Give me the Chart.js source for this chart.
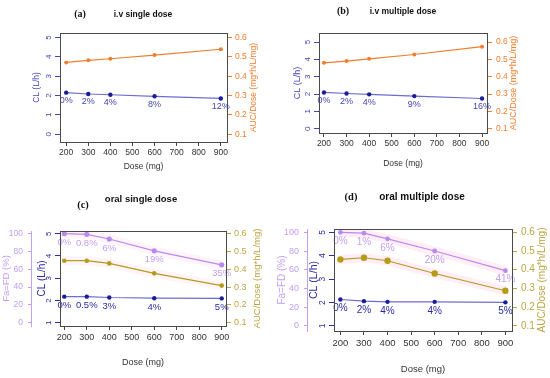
<!DOCTYPE html>
<html>
<head>
<meta charset="utf-8">
<script src="https://cdn.jsdelivr.net/npm/chart.js@4.4.1/dist/chart.umd.min.js"></script>
<style>
  html, body { margin: 0; padding: 0; background: #fff; }
  #wrap { position: relative; width: 550px; height: 378px; overflow: hidden; }
  .panel { position: absolute; width: 275px; height: 189px; }
</style>
</head>
<body>
<div id="wrap">
  <div class="panel" style="left:0;top:0"><canvas id="pa"></canvas></div>
  <div class="panel" style="left:275px;top:0"><canvas id="pb"></canvas></div>
  <div class="panel" style="left:0;top:189px"><canvas id="pc"></canvas></div>
  <div class="panel" style="left:275px;top:189px"><canvas id="pd"></canvas></div>
</div>
<script>
const doses = [200, 300, 400, 600, 900];
const doseTicks = [200, 300, 400, 500, 600, 700, 800, 900];
const clTicksIv = [0, 1, 2, 3, 4, 5];
const clTicksOral = [1, 2, 3, 4, 5];
const faTicks = [0, 20, 40, 60, 80, 100];
const aucTicks = [0.1, 0.2, 0.3, 0.4, 0.5, 0.6];

// (a) i.v single dose
const clIvSingle = [2.15, 2.08, 2.04, 1.96, 1.85];
const aucIvSingle = [0.471, 0.482, 0.49, 0.509, 0.539];
const pctIvSingle = ["0%", "2%", "4%", "8%", "12%"];

// (b) i.v multiple dose
const clIvMulti = [2.09, 2.03, 1.98, 1.88, 1.74];
const aucIvMulti = [0.48, 0.49, 0.503, 0.528, 0.573];
const pctIvMulti = ["0%", "2%", "4%", "9%", "16%"];

// (c) oral single dose
const clOralSingle = [2.17, 2.17, 2.13, 2.1, 2.09];
const faOralSingle = [100, 99.3, 94, 80.7, 65];
const aucOralSingle = [0.448, 0.448, 0.433, 0.377, 0.308];
const pctClOralSingle = ["0%", "0.5%", "3%", "4%", "5%"];
const pctFaOralSingle = ["0%", "0.8%", "6%", "19%", "35%"];

// (d) oral multiple dose
const clOralMulti = [2.13, 2.06, 2.03, 2.03, 2.01];
const faOralMulti = [100, 99, 93, 80, 59];
const aucOralMulti = [0.455, 0.464, 0.448, 0.38, 0.288];
const pctClOralMulti = ["0%", "2%", "4%", "4%", "5%"];
const pctFaOralMulti = ["0%", "1%", "6%", "20%", "41%"];

const NAVY = "#1c1c9a";
const BLUE_LINE = "#6c6cd2";
const BLUE_TXT = "#4545b4";
const ORANGE = "#f07e2c";
const LAV = "#b98aec";
const LAV_TXT = "#c29ff0";
const OLIVE = "#b49c16";
const OLIVE_TXT = "#bba644";
const SANS = "'Liberation Sans', Arial, sans-serif";

function pts(ys) {
  return doses.map((d, i) => ({ x: d, y: ys[i] }));
}
function fixTicks(values) {
  return scale => { scale.ticks = values.map(v => ({ value: v })); };
}
function fixSize(n) {
  return scale => {
    if (scale.isHorizontal()) scale.height = n; else scale.width = n;
  };
}

// draws the % labels under points
const pctLabels = {
  id: "pctLabels",
  afterDatasetsDraw(chart) {
    const ctx = chart.ctx;
    chart.data.datasets.forEach((ds, i) => {
      if (!ds.pct) return;
      const meta = chart.getDatasetMeta(i);
      ctx.save();
      ctx.font = ds.pctFont;
      ctx.fillStyle = ds.pctColor;
      ctx.textAlign = "center";
      ctx.textBaseline = "middle";
      meta.data.forEach((el, j) => ctx.fillText(ds.pct[j], el.x, el.y + ds.pctDy));
      ctx.restore();
    });
  }
};

// box, panel tag, title, right axis title
const decor = {
  id: "decor",
  afterDraw(chart, args, o) {
    const ctx = chart.ctx;
    const a = chart.chartArea;
    ctx.save();
    ctx.strokeStyle = "#4a4a4a";
    ctx.lineWidth = 1;
    ctx.strokeRect(Math.round(a.left) + 0.5, Math.round(a.top) + 0.5,
      Math.round(a.right - a.left), Math.round(a.bottom - a.top));
    ctx.fillStyle = "#111";
    ctx.textBaseline = "middle";
    ctx.textAlign = "center";
    ctx.font = o.tagFont;
    ctx.fillText(o.tag, o.tagX, o.tagY);
    ctx.font = o.titleFont;
    ctx.fillText(o.title, o.titleX, o.titleY);
    ctx.translate(o.rightX, (a.top + a.bottom) / 2);
    ctx.rotate(-Math.PI / 2);
    ctx.fillStyle = o.rightColor;
    ctx.font = o.rightFont;
    ctx.fillText(o.rightTitle, 0, 0);
    ctx.restore();
  }
};

function tickFmt(dec) {
  return v => dec ? Number(v).toFixed(dec) : String(v);
}

function yAxis(p) {
  return {
    type: "linear",
    position: p.position,
    weight: p.weight || 0,
    min: p.min,
    max: p.max,
    afterBuildTicks: fixTicks(p.ticks),
    afterFit: fixSize(p.width),
    grid: { display: true, drawOnChartArea: false, drawTicks: true, tickLength: p.tickLength || 5, color: p.color, lineWidth: 1 },
    border: { display: !!p.border, color: p.color },
    ticks: Object.assign({
      color: p.color,
      font: { family: SANS, size: p.fontSize },
      padding: p.padding,
      callback: tickFmt(p.dec || 0)
    }, p.rotate ? { minRotation: 90, maxRotation: 90, crossAlign: "center" } : {}),
    title: p.title ? {
      display: true,
      text: p.title,
      color: p.color,
      font: { family: SANS, size: p.titleSize },
      padding: { top: p.titlePad, bottom: 0 }
    } : { display: false }
  };
}

function xAxis(p) {
  return {
    type: "linear",
    position: "bottom",
    min: p.min,
    max: p.max,
    afterBuildTicks: fixTicks(doseTicks),
    afterFit: fixSize(p.height),
    grid: { display: true, drawOnChartArea: false, drawTicks: true, tickLength: 4, color: "#444" },
    border: { display: false },
    ticks: { color: "#333", font: { family: SANS, size: p.fontSize }, padding: p.padding, maxRotation: 0, autoSkip: false, callback: tickFmt(0) },
    title: { display: true, text: "Dose (mg)", color: "#333", font: { family: SANS, size: p.fontSize }, padding: { top: 0, bottom: p.titlePad } }
  };
}

function lineDs(label, ys, axis, color, ptColor, radius, extra) {
  return Object.assign({
    label: label,
    data: pts(ys),
    yAxisID: axis,
    borderColor: color,
    borderWidth: 1.2,
    pointRadius: radius,
    pointBackgroundColor: ptColor,
    pointBorderWidth: 0,
    tension: 0,
    fill: false,
    order: 1
  }, extra || {});
}

// faint pink halo behind the oral-dose lines
function glowDs(ys, axis, alpha) {
  return {
    data: pts(ys), yAxisID: axis, borderColor: "rgba(255, 196, 230, " + alpha + ")", borderWidth: 9,
    pointRadius: 0, tension: 0, fill: false, order: 10
  };
}

function baseOptions(top, scales, deco) {
  return {
    responsive: true,
    maintainAspectRatio: false,
    animation: false,
    layout: { padding: { top: top, left: 0, right: 0, bottom: 0 } },
    plugins: { legend: { display: false }, tooltip: { enabled: false }, decor: deco },
    scales: scales
  };
}

// (a)
new Chart(document.getElementById("pa"), {
  type: "line",
  data: {
    datasets: [
      lineDs("CL", clIvSingle, "cl", BLUE_LINE, NAVY, 2.2,
        { pct: pctIvSingle, pctColor: BLUE_TXT, pctFont: "9px " + SANS, pctDy: 8 }),
      lineDs("AUC/Dose", aucIvSingle, "auc", ORANGE, ORANGE, 2)
    ]
  },
  options: baseOptions(33, {
    x: xAxis({ min: 172, max: 928, height: 47, fontSize: 8.5, padding: 2, titlePad: 17 }),
    cl: yAxis({ position: "left", min: -0.4, max: 5.23, ticks: clTicksIv, width: 60, color: BLUE_TXT, fontSize: 8, padding: 4, rotate: true, title: "CL (L/h)", titleSize: 8.5, titlePad: 32 }),
    auc: yAxis({ position: "right", min: 0.06, max: 0.623, ticks: aucTicks, width: 48, color: ORANGE, fontSize: 8.5, padding: 3, dec: 1 })
  }, { tag: "(a)", tagX: 80, tagY: 14, tagFont: "bold 10px 'Liberation Serif', serif", title: "i.v single dose", titleX: 143, titleY: 15, titleFont: "bold 8.5px " + SANS, rightTitle: "AUC/Dose (mg*h/L/mg)", rightX: 254, rightColor: ORANGE, rightFont: "8.5px " + SANS }),
  plugins: [pctLabels, decor]
});

// (b)
new Chart(document.getElementById("pb"), {
  type: "line",
  data: {
    datasets: [
      lineDs("CL", clIvMulti, "cl", BLUE_LINE, NAVY, 2.2,
        { pct: pctIvMulti, pctColor: BLUE_TXT, pctFont: "9px " + SANS, pctDy: 8 }),
      lineDs("AUC/Dose", aucIvMulti, "auc", ORANGE, ORANGE, 2)
    ]
  },
  options: baseOptions(33, {
    x: xAxis({ min: 178, max: 922, height: 56, fontSize: 8.5, padding: 2, titlePad: 20 }),
    cl: yAxis({ position: "left", min: -0.25, max: 5.52, ticks: clTicksIv, width: 44, color: BLUE_TXT, fontSize: 8, padding: 4, rotate: true, title: "CL (L/h)", titleSize: 9, titlePad: 17 }),
    auc: yAxis({ position: "right", min: 0.075, max: 0.652, ticks: aucTicks, width: 63, color: ORANGE, fontSize: 8.5, padding: 4, dec: 1 })
  }, { tag: "(b)", tagX: 68, tagY: 11, tagFont: "bold 10px 'Liberation Serif', serif", title: "i.v multiple dose", titleX: 128, titleY: 12, titleFont: "bold 8.5px " + SANS, rightTitle: "AUC/Dose (mg*h/L/mg)", rightX: 239, rightColor: ORANGE, rightFont: "9px " + SANS }),
  plugins: [pctLabels, decor]
});

// (c)
new Chart(document.getElementById("pc"), {
  type: "line",
  data: {
    datasets: [
      lineDs("Fa=FD", faOralSingle, "fa", LAV, LAV, 2.6,
        { pct: pctFaOralSingle, pctColor: LAV_TXT, pctFont: "9.5px " + SANS, pctDy: 9 }),
      lineDs("AUC/Dose", aucOralSingle, "auc", OLIVE, OLIVE, 2.3),
      lineDs("CL", clOralSingle, "cl", BLUE_LINE, NAVY, 2.2,
        { pct: pctClOralSingle, pctColor: "#2b2ba6", pctFont: "9.5px " + SANS, pctDy: 9 }),
      glowDs(faOralSingle, "fa", 0.18),
      glowDs(aucOralSingle, "auc", 0.18)
    ]
  },
  options: baseOptions(42, {
    x: xAxis({ min: 181, max: 919, height: 52, fontSize: 9, padding: 2, titlePad: 10 }),
    fa: yAxis({ position: "left", weight: 2, min: -3.75, max: 103, ticks: faTicks, width: 31, color: LAV_TXT, fontSize: 8.5, padding: 5, tickLength: 3, border: true, title: "Fa=FD (%)", titleSize: 9.5, titlePad: 1 }),
    cl: yAxis({ position: "left", weight: 1, min: 0.85, max: 5.12, ticks: clTicksOral, width: 29, color: "#2b2ba6", fontSize: 8, padding: 4, rotate: true, title: "CL (L/h)", titleSize: 10, titlePad: 5 }),
    auc: yAxis({ position: "right", min: 0.081, max: 0.615, ticks: aucTicks, width: 49, color: OLIVE_TXT, fontSize: 9, padding: 3, dec: 1 })
  }, { tag: "(c)", tagX: 83, tagY: 16, tagFont: "bold 10.5px 'Liberation Serif', serif", title: "oral single dose", titleX: 141, titleY: 10, titleFont: "bold 9.5px " + SANS, rightTitle: "AUC/Dose (mg*h/L/mg)", rightX: 257, rightColor: OLIVE_TXT, rightFont: "9.5px " + SANS }),
  plugins: [pctLabels, decor]
});

// (d)
new Chart(document.getElementById("pd"), {
  type: "line",
  data: {
    datasets: [
      lineDs("Fa=FD", faOralMulti, "fa", LAV, LAV, 2.4,
        { pct: pctFaOralMulti, pctColor: LAV_TXT, pctFont: "10px " + SANS, pctDy: 9 }),
      lineDs("AUC/Dose", aucOralMulti, "auc", OLIVE, OLIVE, 3.2),
      lineDs("CL", clOralMulti, "cl", BLUE_LINE, NAVY, 2.2,
        { pct: pctClOralMulti, pctColor: "#2b2ba6", pctFont: "10px " + SANS, pctDy: 9 }),
      glowDs(faOralMulti, "fa", 0.3),
      glowDs(aucOralMulti, "auc", 0.3)
    ]
  },
  options: baseOptions(40, {
    x: xAxis({ min: 173, max: 928, height: 47, fontSize: 9.5, padding: 3, titlePad: 3 }),
    fa: yAxis({ position: "left", weight: 2, min: -5.35, max: 103.5, ticks: faTicks, width: 32, color: LAV_TXT, fontSize: 9, padding: 5, tickLength: 3, border: true, title: "Fa=FD (%)", titleSize: 10, titlePad: 1 }),
    cl: yAxis({ position: "left", weight: 1, min: 0.786, max: 5.14, ticks: clTicksOral, width: 27, color: "#2b2ba6", fontSize: 8.5, padding: 4, rotate: true, title: "CL (L/h)", titleSize: 10.5, titlePad: 1 }),
    auc: yAxis({ position: "right", min: 0.073, max: 0.6175, ticks: aucTicks, width: 38, color: OLIVE_TXT, fontSize: 10, padding: 4, dec: 1 })
  }, { tag: "(d)", tagX: 76, tagY: 8, tagFont: "bold 10.5px 'Liberation Serif', serif", title: "oral multiple dose", titleX: 147, titleY: 8, titleFont: "bold 10px " + SANS, rightTitle: "AUC/Dose (mg*h/L/mg)", rightX: 267, rightColor: OLIVE_TXT, rightFont: "10px " + SANS }),
  plugins: [pctLabels, decor]
});
</script>
</body>
</html>
